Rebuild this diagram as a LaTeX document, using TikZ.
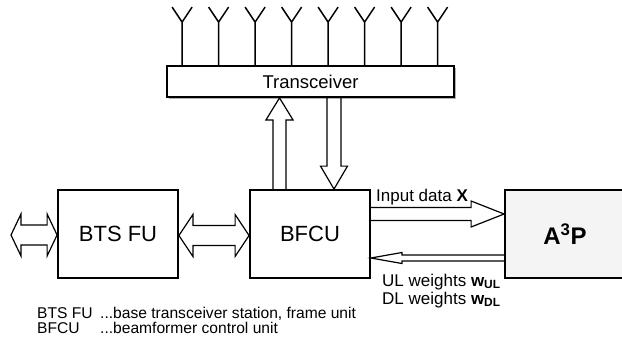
\documentclass[tikz,border=0pt]{standalone}
\usepackage{fontspec}
\setmainfont{Liberation Sans}
\usetikzlibrary{calc,shadows}
\tikzset{
  unit/.style={draw,line width=1.8pt,inner sep=0pt,minimum width=120pt,minimum height=88pt,
    font=\fontsize{22}{24}\selectfont},
  arrowline/.style={line width=1.2pt,line join=miter},
  antline/.style={line width=1.5pt},
  lbl/.style={inner sep=0pt,anchor=base west,font=\fontsize{17}{19}\selectfont},
  legend/.style={inner sep=0pt,anchor=base west,font=\fontsize{15.6}{17}\selectfont}
}
% hollow block arrow: from, to, shaft half width, head half width, head length
\newcommand{\blockarrow}[5]{%
  \coordinate (ba-h) at ($(#2)!#5!(#1)$);
  \draw[arrowline] ($(#1)!#3!90:(#2)$) -- ($(ba-h)!#3!-90:(#1)$) -- ($(ba-h)!#4!-90:(#1)$)
    -- (#2) -- ($(ba-h)!#4!90:(#1)$) -- ($(ba-h)!#3!90:(#1)$) -- ($(#1)!#3!-90:(#2)$);
}
\newcommand{\blockarrowboth}[5]{%
  \coordinate (ba-t) at ($(#1)!#5!(#2)$);
  \coordinate (ba-h) at ($(#2)!#5!(#1)$);
  \draw[arrowline] (#1) -- ($(ba-t)!#4!90:(#2)$) -- ($(ba-t)!#3!90:(#2)$)
    -- ($(ba-h)!#3!-90:(#1)$) -- ($(ba-h)!#4!-90:(#1)$) -- (#2)
    -- ($(ba-h)!#4!90:(#1)$) -- ($(ba-h)!#3!90:(#1)$)
    -- ($(ba-t)!#3!-90:(#2)$) -- ($(ba-t)!#4!-90:(#2)$) -- cycle;
}

\begin{document}
\begin{tikzpicture}[x=1pt,y=-1pt]
\useasboundingbox (0,0) rectangle (622,341);
\clip (0,0) rectangle (622,341);
\node[draw,line width=1.8pt,minimum width=287pt,minimum height=31pt,inner sep=0pt,fill=white,
  drop shadow={shadow xshift=1.5pt,shadow yshift=-1.5pt,fill=gray!60,opacity=1},
  font=\fontsize{18.5}{20}\selectfont] (trx) at (310.5,81.5) {Transceiver};
\node[unit] (bts) at (118,234) {BTS FU};
\node[unit] (bfcu) at (310,234) {BFCU};
\node[unit,fill=gray!9,font=\fontsize{24}{26}\selectfont\bfseries] (aaap) at (565,234) {A\textsuperscript{3}P};
% antennas
\foreach \i in {0,...,7}{
  \coordinate (ant\i) at ($(trx.north west)+(16+36.5*\i,0)$);
  \draw[antline] (ant\i) -- ++(0,-43) -- ++(-10,-15) ++(10,15) -- ++(10,-15);
}
% links to the transceiver
\coordinate (up-a) at ($(bfcu.north)+(-30.5,0)$);
\coordinate (up-b) at (up-a |- trx.south);
\blockarrow{up-a}{up-b}{6.5pt}{13.5pt}{22pt}
\coordinate (dn-a) at ($(trx.south)+(23.5,0)$);
\coordinate (dn-b) at (dn-a |- bfcu.north);
\blockarrow{dn-a}{dn-b}{7pt}{13.5pt}{23pt}
% links to the A3P
\coordinate (in-a) at ($(bfcu.east)+(0,-20)$);
\coordinate (in-b) at (in-a -| aaap.west);
\blockarrow{in-a}{in-b}{6.5pt}{13pt}{33pt}
\coordinate (w-a) at ($(aaap.west)+(0,24)$);
\coordinate (w-b) at (w-a -| bfcu.east);
\blockarrow{w-a}{w-b}{3pt}{5.5pt}{31pt}
% two-way links
\coordinate (ext) at (11,235);
\blockarrowboth{ext}{ext -| bts.west}{10pt}{21pt}{10pt}
\coordinate (mid-a) at ($(bts.east)+(0,1.5)$);
\blockarrowboth{mid-a}{mid-a -| bfcu.west}{10pt}{21pt}{14pt}
% labels
\node[lbl] (inlbl) at (376,201) {Input data \textbf{X}};
\node[lbl] (ullbl) at (382,286) {UL weights \textbf{w\textsubscript{UL}}};
\node[lbl] (dllbl) at (382,304) {DL weights \textbf{w\textsubscript{DL}}};
% legend
\node[legend] (key1) at (37,318) {BTS FU};
\node[legend] (txt1) at (100,318) {...base transceiver station, frame unit};
\node[legend] (key2) at (37,333) {BFCU};
\node[legend] (txt2) at (100,333) {...beamformer control unit};
\end{tikzpicture}
\end{document}
